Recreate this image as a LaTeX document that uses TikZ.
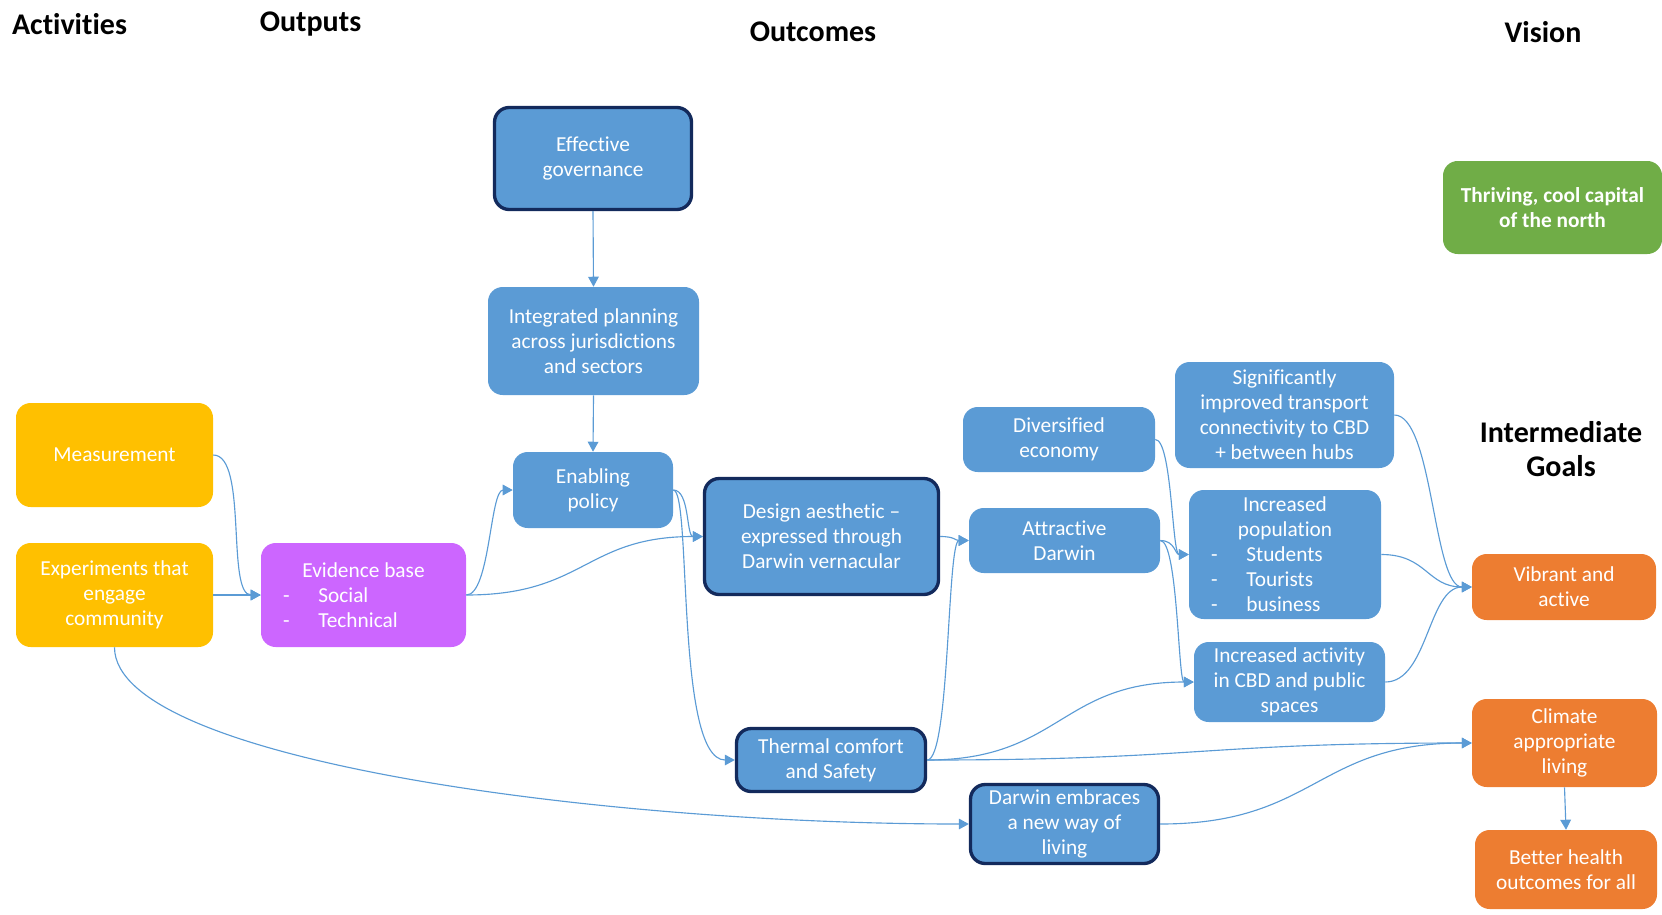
\documentclass[tikz,border=0pt]{standalone}
\usepackage{fontspec}
\setmainfont{Carlito}[Ligatures={TeX,NoCommon}]
\usetikzlibrary{arrows.meta}
\definecolor{bl}{HTML}{5B9BD5}
\definecolor{navy}{HTML}{132A5C}
\definecolor{orng}{HTML}{ED7D31}
\definecolor{yel}{HTML}{FFC000}
\definecolor{purp}{HTML}{CC66FF}
\definecolor{grn}{HTML}{70AD47}
\definecolor{conn}{HTML}{5B9BD5}
\newcommand\lstitem[2]{\makebox[#1][l]{\hspace{16.5pt}\makebox[26.5pt][l]{-}#2}}
\begin{document}
\begin{tikzpicture}[x=0.75pt,y=-0.75pt,
 bx/.style={rounded corners=11pt, text=white, align=center, font=\fontsize{16}{18.75}\selectfont, inner sep=2pt},
 sz/.style 2 args={minimum width=#1*0.75pt, minimum height=#2*0.75pt},
 blu/.style={bx, fill=bl},
 dk/.style={bx, fill=bl, draw=navy, line width=2.5pt},
 hdr/.style={font=\fontsize{22.5}{25.5}\selectfont\bfseries, align=center, inner sep=0pt},
 cn/.style={draw=conn, line width=0.85pt, -{Triangle[length=7.5pt,width=8pt]}}
]
\useasboundingbox (0,0) rectangle (1662,914);

\node[hdr] (hact) at (69.5,24) {Activities};
\node[hdr] (hout) at (310.5,24) {Outputs};
\node[hdr] (hoc) at (813,32) {Outcomes};
\node[hdr] (hvis) at (1543,32) {Vision};
\node[hdr] (hig) at (1561,449) {Intermediate\\Goals};

\node[bx,fill=yel,sz={197}{104}] (meas) at (114.5,455) {Measurement};
\node[bx,fill=yel,sz={197}{104}] (exper) at (114.5,595) {Experiments that\\engage\\community};
\node[bx,fill=purp,sz={205}{104},inner sep=0pt] (evid) at (363.5,595) {Evidence base\\\lstitem{153.75pt}{Social}\\\lstitem{153.75pt}{Technical}};
\node[dk,sz={197}{102}] (gov) at (593,158.5) {Effective\\governance};
\node[blu,sz={211}{108}] (integ) at (593.5,341) {Integrated planning\\across jurisdictions\\and sectors};
\node[blu,sz={160}{76}] (enab) at (593,490) {Enabling\\policy};
\node[dk,sz={234}{116}] (design) at (821.5,536.5) {Design aesthetic –\\expressed through\\Darwin vernacular};
\node[dk,sz={189}{63}] (therm) at (831,760) {Thermal comfort\\and Safety};
\node[blu,sz={192}{65}] (divers) at (1059,439.5) {Diversified\\economy};
\node[blu,sz={191}{65}] (attr) at (1064.5,540.5) {Attractive\\Darwin};
\node[blu,sz={219}{106}] (signif) at (1284.5,415) {Significantly\\improved transport\\connectivity to CBD\\+ between hubs};
\node[blu,sz={192}{129},inner sep=0pt] (pop) at (1285,554.5) {Increased\\population\\\lstitem{144pt}{Students}\\\lstitem{144pt}{Tourists}\\\lstitem{144pt}{business}};
\node[blu,sz={191}{80}] (activ) at (1289.5,682) {Increased activity\\in CBD and public\\spaces};
\node[dk,sz={188}{79}] (embr) at (1064.5,824) {Darwin embraces\\a new way of\\living};
\node[bx,fill=orng,sz={184}{66}] (vibr) at (1564,587) {Vibrant and\\active};
\node[bx,fill=orng,sz={185}{88}] (clim) at (1564.5,743) {Climate\\appropriate\\living};
\node[bx,fill=orng,sz={182}{79}] (health) at (1566,869.5) {Better health\\outcomes for all};
\node[bx,fill=grn,sz={219}{93},font=\fontsize{16}{18.75}\selectfont\bfseries] (vis) at (1552.5,207.5) {Thriving, cool capital\\of the north};

\draw[cn] (meas.east) .. controls (248,455) and (226,595) .. (evid.west);
\draw[cn] (exper.east) -- (evid.west);
\draw[cn] (evid.east) .. controls (490,595) and (490,490) .. (enab.west);
\draw[cn] (evid.east) .. controls (585,595) and (585,536.5) .. (design.west);
\draw[cn] (gov.south) -- (integ.north);
\draw[cn] (integ.south) -- (enab.north);
\draw[cn] (enab.east) .. controls (690,490) and (686,536.5) .. (design.west);
\draw[cn] (enab.east) .. controls (692,490) and (675,760) .. (therm.west);
\draw[cn] (design.east) .. controls (955,536.5) and (955,540.5) .. (attr.west);
\draw[cn] (therm.east) .. controls (950,760) and (947,540.5) .. (attr.west);
\draw[cn] (therm.east) .. controls (1060,760) and (1060,682) .. (activ.west);
\draw[cn] (therm.east) .. controls (1200,760) and (1200,743) .. (clim.west);
\draw[cn] (exper.south) .. controls (114.5,760) and (600,824) .. (embr.west);
\draw[cn] (embr.east) .. controls (1316,824) and (1316,743) .. (clim.west);
\draw[cn] (divers.east) .. controls (1172,439.5) and (1172,554.5) .. (pop.west);
\draw[cn] (attr.east) .. controls (1175,540.5) and (1175,554.5) .. (pop.west);
\draw[cn] (attr.east) .. controls (1178,540.5) and (1178,682) .. (activ.west);
\draw[cn] (signif.east) .. controls (1433,415) and (1433,587) .. (vibr.west);
\draw[cn] (pop.east) .. controls (1427,554.5) and (1427,587) .. (vibr.west);
\draw[cn] (activ.east) .. controls (1428,682) and (1428,587) .. (vibr.west);
\draw[cn] (clim.south) -- (health.north);
\end{tikzpicture}
\end{document}
